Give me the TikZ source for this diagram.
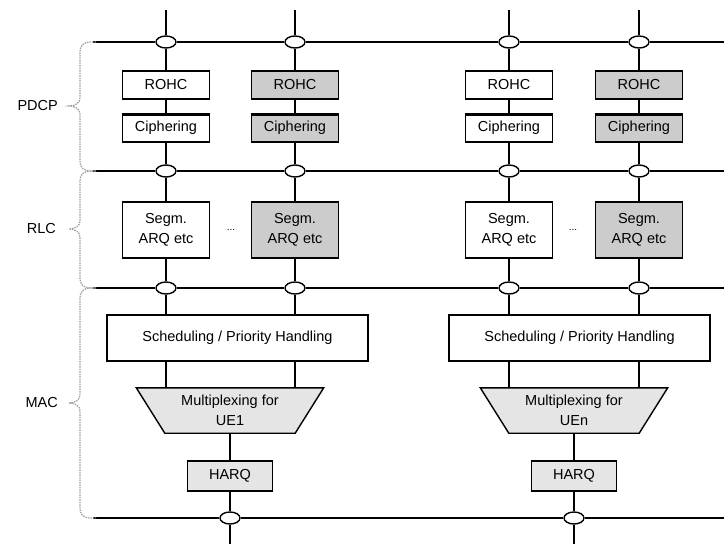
\documentclass[tikz,border=0pt]{standalone}
\usepackage{fontspec}
\setmainfont{Liberation Sans}
\usetikzlibrary{calc,backgrounds,shapes.geometric}
\definecolor{shade}{gray}{0.80}
\definecolor{lightshade}{gray}{0.90}
\definecolor{bracegray}{gray}{0.62}

\begin{document}
\begin{tikzpicture}[x=1pt,y=-1pt,
  every node/.style={font=\fontsize{14.5}{20}\selectfont, inner sep=0pt},
  wire/.style={line width=1.4pt},
  sap/.style={ellipse, draw, fill=white, line width=1.4pt, minimum width=20pt, minimum height=12pt},
  block/.style={draw, fill=white, line width=1.4pt, minimum width=87pt, align=center},
  shaded/.style={fill=shade},
  rohcbox/.style={block, minimum height=28pt},
  segbox/.style={block, minimum height=56pt},
  schedbox/.style={draw, fill=white, line width=1.4pt, minimum width=261pt, minimum height=46pt},
  harqbox/.style={draw, fill=lightshade, line width=1.4pt, minimum width=85pt, minimum height=30pt},
  muxtext/.style={minimum width=130pt, minimum height=45pt, align=center},
  brace/.style={draw=bracegray, line width=1.2pt, dash pattern=on 1.5pt off 1pt},
  layerlabel/.style={anchor=east}
]
\useasboundingbox (0,0) rectangle (724,544);
\begin{scope}[on background layer]
  \fill[white] (0,0) rectangle (724,544);
\end{scope}

% service access points on the layer boundaries
\foreach \c/\x in {1/166,2/295,3/509,4/639} {
  \node[sap] (pa\c) at (\x,42) {};
  \node[sap] (pb\c) at (\x,171) {};
  \node[sap] (pc\c) at (\x,288) {};
  \coordinate (t\c) at (\x,10);
}
\node[sap] (pd1) at (230,518) {};
\node[sap] (pd2) at (574,518) {};
\coordinate (b1) at (230,544);
\coordinate (b2) at (574,544);

% boundary lines
\coordinate (la) at (93,42);  \coordinate (ra) at (724,42);
\coordinate (lb) at (93,171); \coordinate (rb) at (724,171);
\coordinate (lc) at (93,288); \coordinate (rc) at (724,288);
\coordinate (ld) at (93,518); \coordinate (rd) at (724,518);
\draw[wire] (la) -- (pa1) -- (pa2) -- (pa3) -- (pa4) -- (ra);
\draw[wire] (lb) -- (pb1) -- (pb2) -- (pb3) -- (pb4) -- (rb);
\draw[wire] (lc) -- (pc1) -- (pc2) -- (pc3) -- (pc4) -- (rc);
\draw[wire] (ld) -- (pd1) -- (pd2) -- (rd);

% PDCP and RLC entities
\node[rohcbox] (rohc1) at (166,85) {ROHC};
\node[rohcbox, shaded] (rohc2) at (295,85) {ROHC};
\node[rohcbox] (rohc3) at (509,85) {ROHC};
\node[rohcbox, shaded] (rohc4) at (639,85) {ROHC};
\node[rohcbox] (ciph1) at (166,128) {Ciphering};
\node[rohcbox, shaded] (ciph2) at (295,128) {Ciphering};
\node[rohcbox] (ciph3) at (509,128) {Ciphering};
\node[rohcbox, shaded] (ciph4) at (639,128) {Ciphering};
\foreach \c in {1,2,3,4} {
  \draw[line width=3pt] ($(ciph\c.north west)+(0,1)$) -- ($(ciph\c.north east)+(0,1)$);
}
\node[segbox] (seg1) at (166,230) {Segm.\\ARQ etc};
\node[segbox, shaded] (seg2) at (295,230) {Segm.\\ARQ etc};
\node[segbox] (seg3) at (509,230) {Segm.\\ARQ etc};
\node[segbox, shaded] (seg4) at (639,230) {Segm.\\ARQ etc};
\node[font=\fontsize{10}{10}\selectfont] (dots1) at (231,230) {...};
\node[font=\fontsize{10}{10}\selectfont] (dots2) at (573,230) {...};

% MAC entities
\node[schedbox] (sched1) at (237.5,338) {Scheduling / Priority Handling};
\node[schedbox] (sched2) at (579.5,338) {Scheduling / Priority Handling};
\node[muxtext] (mux1) at (230,410.5) {Multiplexing for\\UE1};
\node[muxtext] (mux2) at (574,410.5) {Multiplexing for\\UEn};
\begin{scope}[on background layer]
  \foreach \m in {mux1,mux2} {
    \draw[line width=1.4pt, fill=lightshade]
      ($(\m.north west)+(-28.5,0)$) -- ($(\m.north east)+(28.5,0)$)
      -- (\m.south east) -- (\m.south west) -- cycle;
  }
\end{scope}
\node[harqbox] (harq1) at (230,476) {HARQ};
\node[harqbox] (harq2) at (574,476) {HARQ};

% vertical data paths
\foreach \c in {1,2,3,4} {
  \draw[wire] (t\c) -- (pa\c) -- (rohc\c) -- (ciph\c) -- (pb\c) -- (seg\c) -- (pc\c);
}
\draw[wire] (pc1) -- (sched1.north -| pc1);
\draw[wire] (pc2) -- (sched1.north -| pc2);
\draw[wire] (pc3) -- (sched2.north -| pc3);
\draw[wire] (pc4) -- (sched2.north -| pc4);
\draw[wire] (sched1.south -| pc1) -- (mux1.north -| pc1);
\draw[wire] (sched1.south -| pc2) -- (mux1.north -| pc2);
\draw[wire] (sched2.south -| pc3) -- (mux2.north -| pc3);
\draw[wire] (sched2.south -| pc4) -- (mux2.north -| pc4);
\draw[wire] (mux1) -- (harq1) -- (pd1) -- (b1);
\draw[wire] (mux2) -- (harq2) -- (pd2) -- (b2);

% layer braces
\foreach \ya/\yb/\ym in {42/171/106, 171/288/229, 288/518/403} {
  \draw[brace] (96,\ya) -- (92,\ya) .. controls (83,\ya) and (80,\ya+3) .. (80,\ya+11)
    -- (80,\ym-8) .. controls (80,\ym-3) and (75,\ym) .. (69,\ym)
    .. controls (75,\ym) and (80,\ym+3) .. (80,\ym+8)
    -- (80,\yb-11) .. controls (80,\yb-3) and (83,\yb) .. (92,\yb) -- (96,\yb);
}
\node[layerlabel] (lpdcp) at (58,106) {PDCP};
\node[layerlabel] (lrlc) at (56,229) {RLC};
\node[layerlabel] (lmac) at (58,403) {MAC};
\end{tikzpicture}
\end{document}
